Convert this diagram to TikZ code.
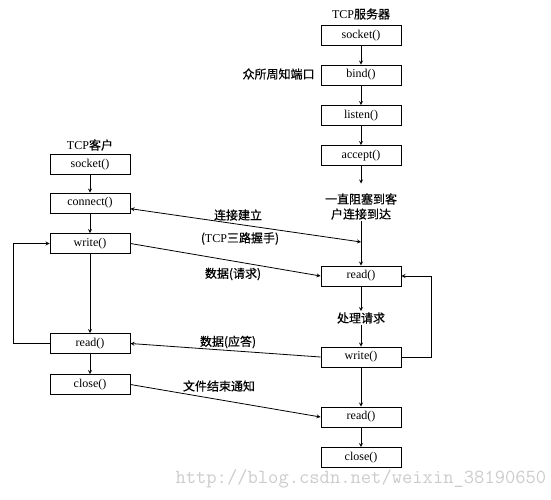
\documentclass[tikz,border=0pt]{standalone}
\usepackage{fontspec}
\setmainfont{Liberation Serif}
\newfontfamily\cjk{Noto Sans CJK SC}[FakeBold=0.6]
\tikzset{
  box/.style={draw, line width=0.9pt, minimum width=80pt, minimum height=20pt,
    inner sep=0pt, font=\fontsize{12}{14}\selectfont},
  lbl/.style={inner sep=1pt, font=\cjk\fontsize{12}{15}\selectfont},
}
\begin{document}
\begin{tikzpicture}[x=1pt, y=-1pt, >=stealth, line width=0.8pt]
        \useasboundingbox (0,0) rectangle (551,499);

        % client
        \node[lbl] (ctitle) at (90,145) {\rmfamily TCP\cjk 客户};
        \node[box] (csocket) at (90,164.5) {socket()};
        \node[box] (cconnect) at (90,203) {connect()};
        \node[box] (cwrite) at (90,243.5) {write()};
        \node[box] (cread) at (90,343.5) {read()};
        \node[box] (cclose) at (90,384.5) {close()};

        \draw[->] (csocket) -- (cconnect);
        \draw[->] (cconnect) -- (cwrite);
        \draw[->] (cwrite) -- (cread);
        \draw[->] (cread) -- (cclose);
        \draw[->] (cread.west) -- ++(-36,0) |- (cwrite.west);

        % server
        \node[lbl] (stitle) at (361,14) {\rmfamily TCP\cjk 服务器};
        \node[box] (ssocket) at (361,35.5) {socket()};
        \node[box] (sbind) at (361,75) {bind()};
        \node[lbl, anchor=east] (port) at (316,74) {众所周知端口};
        \node[box] (slisten) at (361,115.5) {listen()};
        \node[box] (saccept) at (361,155.5) {accept()};
        \node[lbl, align=center] (sblock) at (361,206.5) {一直阻塞到客\\户连接到达};
        \node[box] (sread) at (361,276) {read()};
        \node[lbl] (sproc) at (361,318) {处理请求};
        \node[box] (swrite) at (361,357) {write()};
        \node[box] (sread2) at (361,417) {read()};
        \node[box] (sclose) at (361,457.5) {close()};
        \coordinate (shs) at (361,242);

        \draw[->] (ssocket) -- (sbind);
        \draw[->] (sbind) -- (slisten);
        \draw[->] (slisten) -- (saccept);
        \draw[->] (saccept) -- ++(0,28);
        \draw[->] (sblock.south) -- (sread);
        \draw[->] (sread) -- (sproc);
        \draw[->] (sproc) -- (swrite);
        \draw[->] (swrite) -- (sread2);
        \draw[->] (sread2) -- (sclose);
        \draw[->] (swrite.east) -- ++(30,0) |- (sread.east);

        % between client and server
        \draw[<->] (cconnect.-8) -- (shs);
        \node[lbl] (lconn) at (238,215) {连接建立};
        \node[lbl] (lsyn) at (240,238.5) {({\rmfamily TCP}三路握手)};
        \draw[->] (cwrite.east) -- (sread.west);
        \node[lbl] (lreq) at (233,274) {数据(请求)};
        \draw[->] (swrite.west) -- (cread.east);
        \node[lbl] (lrep) at (228,342) {数据(应答)};
        \draw[->] (cclose.east) -- (sread2.west);
        \node[lbl] (leof) at (219,386) {文件结束通知};

        \node[anchor=east, text=black!20, font=\fontsize{20}{22}\selectfont\ttfamily] (wmark) at (550,479) {http://blog.csdn.net/weixin\_38190650};
    \end{tikzpicture}
\end{document}
